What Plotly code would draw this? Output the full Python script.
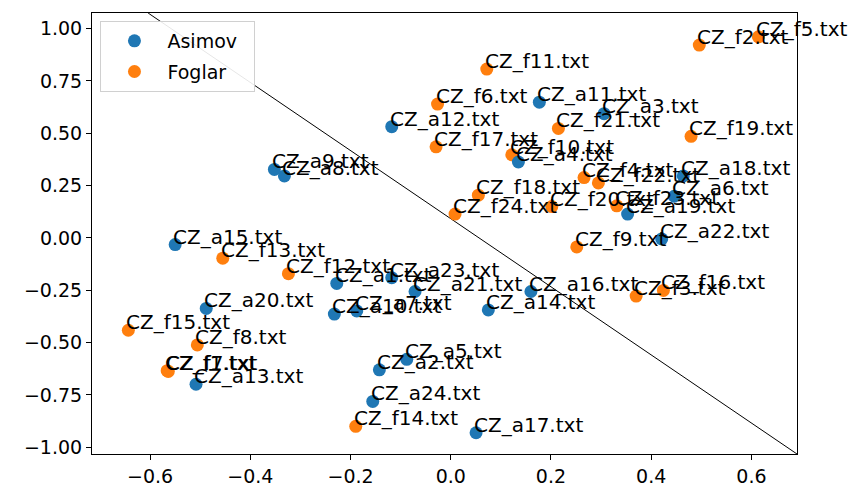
import plotly.graph_objects as go

asimov_labels = [f"CZ_a{i}.txt" for i in range(1, 25)]
asimov_x = [-0.2275, -0.1425, 0.306, 0.135, -0.0878, 0.446, -0.1876, -0.332, -0.352, -0.2323,
            0.1768, -0.1178, -0.5084, 0.075, -0.550, 0.160, 0.0505, 0.464, 0.353, -0.488,
            -0.0713, 0.421, -0.1178, -0.1557]
asimov_y = [-0.2176, -0.630, 0.593, 0.3625, -0.580, 0.199, -0.3486, 0.296, 0.327, -0.364,
            0.648, 0.531, -0.699, -0.344, -0.032, -0.256, -0.9306, 0.296, 0.114, -0.3366,
            -0.256, -0.005, -0.190, -0.781]

foglar_labels = [f"CZ_f{i}.txt" for i in range(1, 25)]
foglar_x = [-0.566, 0.496, 0.370, 0.266, 0.614, -0.0264, -0.5637, -0.5058, 0.2515, 0.1218,
            0.0719, -0.324, -0.455, -0.1896, -0.6435, 0.4244, -0.0293, 0.0551, 0.4796, 0.2016,
            0.2148, 0.2946, 0.3313, 0.0086]
foglar_y = [-0.634, 0.921, -0.278, 0.288, 0.960, 0.639, -0.6375, -0.511, -0.043, 0.397,
            0.806, -0.171, -0.097, -0.900, -0.441, -0.251, 0.435, 0.204, 0.485, 0.1495,
            0.523, 0.2625, 0.153, 0.114]

line_x = [-0.604, 0.691]
line_y = [1.074, -1.032]

x_range = [-0.716, 0.691]
y_range = [-1.032, 1.074]
x_ticks = [-0.6, -0.4, -0.2, 0.0, 0.2, 0.4, 0.6]
y_ticks = [-1.0, -0.75, -0.5, -0.25, 0.0, 0.25, 0.5, 0.75, 1.0]

FONT = "DejaVu Sans"
FS = 20
PAD = "\u00a0\u00a0"
fig = go.Figure()

fig.add_trace(go.Scatter(x=line_x, y=line_y, mode="lines",
                         line=dict(color="black", width=1), showlegend=False, hoverinfo="skip"))
fig.add_trace(go.Scatter(x=foglar_x, y=foglar_y, mode="markers", name="Foglar" + PAD,
                         legendgroup="f", marker=dict(color="#ff7f0e", size=13), legendrank=2))
fig.add_trace(go.Scatter(x=asimov_x, y=asimov_y, mode="markers", name="Asimov" + PAD,
                         legendgroup="a", marker=dict(color="#1f77b4", size=13), legendrank=1))

for labels, xs, ys in [(asimov_labels, asimov_x, asimov_y), (foglar_labels, foglar_x, foglar_y)]:
    for t, x, y in zip(labels, xs, ys):
        fig.add_annotation(x=x, y=y, text=t, showarrow=False, xanchor="left", yanchor="bottom",
                           xshift=-4, yshift=-6, font=dict(family=FONT, size=FS, color="black"))

axis_common = dict(showline=True, mirror=True, linecolor="black", linewidth=1,
                   ticks="outside", ticklen=5, tickcolor="black", showgrid=False, zeroline=False,
                   tickfont=dict(family=FONT, size=19, color="black"))

fig.update_layout(
    width=855, height=499,
    margin=dict(l=92, r=58, t=12, b=32),
    plot_bgcolor="white", paper_bgcolor="white",
    font=dict(family=FONT, size=FS, color="black"),
    xaxis=dict(range=x_range, tickvals=x_ticks, tickformat=".1f", **axis_common),
    yaxis=dict(range=y_range, tickvals=y_ticks, tickformat=".2f", **axis_common),
    legend=dict(x=0.012, y=0.982, xanchor="left", yanchor="top",
                bordercolor="#d0d0d0", borderwidth=1, bgcolor="rgba(255,255,255,0.9)",
                font=dict(family=FONT, size=19), itemwidth=56,
                traceorder="grouped", tracegroupgap=3),
    showlegend=True,
)

fig.write_html("out.html", config={"displayModeBar": False},
               post_script="document.body.style.margin='0';document.body.style.overflow='hidden';")
